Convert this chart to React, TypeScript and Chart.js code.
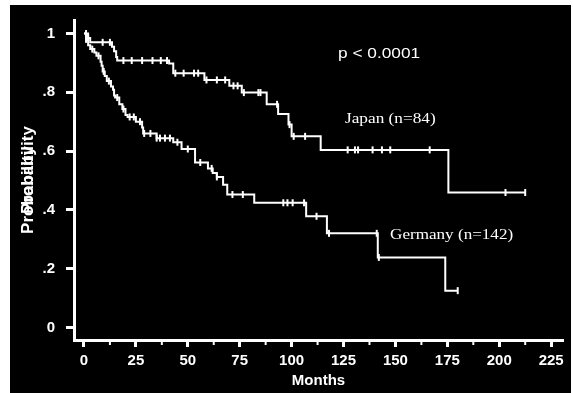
import { useEffect, useRef } from 'react';
import { Chart, registerables } from 'chart.js';
Chart.register(...registerables);

// Kaplan-Meier steps: [month, survival after event]
const japanEvents: [number, number][] = [
  [0, 1], [2, 0.985], [3, 0.97], [13.5, 0.955], [14.5, 0.94], [15.5, 0.92], [16, 0.908],
  [41, 0.898], [43, 0.865], [58, 0.842], [70, 0.822], [76, 0.799], [88, 0.759],
  [93.5, 0.726], [98.5, 0.69], [100, 0.65], [114, 0.604], [175.5, 0.459], [212.5, 0.459],
];
const germanyEvents: [number, number][] = [
  [0, 1], [1, 0.98], [2, 0.96], [3, 0.947], [5, 0.935], [6, 0.924], [8, 0.904], [8.5, 0.89],
  [9, 0.871], [10, 0.855], [11, 0.838], [13, 0.82], [14, 0.809], [14.5, 0.789], [15, 0.782],
  [17, 0.759], [18.5, 0.743], [20, 0.723], [21, 0.716], [25, 0.7], [28, 0.68], [28.5, 0.66],
  [35, 0.644], [43, 0.63], [47, 0.607], [53.5, 0.561], [59.7, 0.541], [62, 0.525], [64, 0.512],
  [67, 0.485], [69, 0.452], [82, 0.424], [107, 0.378], [117, 0.32], [141.5, 0.238],
  [174, 0.125], [180, 0.125],
];
const japanCensored = [1, 2, 9, 12.5, 19, 23, 28, 33, 37, 40, 44, 48, 53, 55, 59, 64, 68, 72, 74, 77,
  84, 85, 93, 99, 101, 106.5, 127, 130.5, 132, 139, 143.5, 147.5, 166.5, 203, 212.5];
const germanyCensored = [1, 4, 7, 9.5, 12, 16, 19, 22, 24, 27, 29, 32, 35, 36.6, 39, 41.4, 45, 50, 56,
  61.5, 64, 71.5, 76.5, 96, 98, 100.5, 106, 112, 118, 141, 142, 180];

const xMajorTicks = [0, 25, 50, 75, 100, 125, 150, 175, 200, 225];
const xTickLabels = ['0', '25', '50', '75', '100', '125', '150', '175', '200', '225'];
const xMinorTicks = [12.5, 37.5, 62.5, 87.5, 112.5, 137.5, 162.5, 187.5, 212.5];
const yTickValues = [0, 0.2, 0.4, 0.6, 0.8, 1];
const yTickLabels = ['0', '.2', '.4', '.6', '.8', '1'];

const annotations = [
  { text: 'p < 0.0001', x: 122.4, y: 0.93, font: '15px "Liberation Sans", Arial, sans-serif', stretch: 1.15 },
  { text: 'Japan (n=84)', x: 125.7, y: 0.708, font: '15px "Liberation Serif", "Times New Roman", serif', stretch: 1.15 },
  { text: 'Germany (n=142)', x: 147.4, y: 0.313, font: '15px "Liberation Serif", "Times New Roman", serif', stretch: 1.14 },
];

const SANS = '"Liberation Sans", Arial, sans-serif';
const Y_TITLE = 'Probability';

function survivalAt(events: [number, number][], t: number) {
  let s = events[0][1];
  for (const [x, y] of events) if (x <= t) s = y;
  return s;
}

const framePlugin = {
  id: 'frame',
  beforeDraw(chart: any) {
    const { ctx, width, height } = chart;
    ctx.save();
    ctx.fillStyle = '#fff';
    ctx.fillRect(0, 0, width, height);
    ctx.fillStyle = '#000';
    ctx.fillRect(10, 5, width - 12, height - 5);
    ctx.restore();
  },
  afterDraw(chart: any) {
    const { ctx, chartArea } = chart;
    const xs = chart.scales.x;
    const ys = chart.scales.y;
    ctx.save();
    ctx.strokeStyle = '#fff';
    ctx.lineWidth = 2;
    for (const v of xMinorTicks) {
      const px = xs.getPixelForValue(v);
      ctx.beginPath();
      ctx.moveTo(px, chartArea.bottom);
      ctx.lineTo(px, chartArea.bottom + 5);
      ctx.stroke();
    }
    ctx.fillStyle = '#fff';
    ctx.textBaseline = 'middle';
    ctx.textAlign = 'left';
    for (const a of annotations) {
      const px = xs.getPixelForValue(a.x);
      const py = ys.getPixelForValue(a.y);
      ctx.save();
      ctx.font = a.font;
      ctx.translate(px, py);
      ctx.scale(a.stretch, 1);
      ctx.fillText(a.text, 0, 0);
      ctx.restore();
    }
    // y-axis title (doubled, as in the scanned original)
    const cy = (chartArea.top + chartArea.bottom) / 2;
    ctx.font = `bold 17px ${SANS}`;
    ctx.textAlign = 'center';
    for (const off of [-10, 10]) {
      ctx.save();
      ctx.translate(28, cy + off);
      ctx.rotate(-Math.PI / 2);
      ctx.fillText(Y_TITLE, 0, 0);
      ctx.restore();
    }
    ctx.restore();
  },
};

export default function App() {
  const ref = useRef<HTMLCanvasElement | null>(null);
  useEffect(() => {
    document.body.style.margin = '0';
    const canvas = ref.current!;
    const lineDs = (events: [number, number][]) => ({
      type: 'line' as const,
      data: events.map(([x, y]) => ({ x, y })),
      borderColor: '#fff',
      borderWidth: 2,
      stepped: 'before' as const,
      pointRadius: 0,
      fill: false,
      showLine: true,
    });
    const censorDs = (events: [number, number][], times: number[]) => ({
      type: 'scatter' as const,
      data: times.map((t) => ({ x: t, y: survivalAt(events, t) })),
      borderColor: '#fff',
      backgroundColor: '#fff',
      pointStyle: 'line' as const,
      rotation: 90,
      pointRadius: 3.5,
      borderWidth: 2,
      showLine: false,
    });
    const chart = new Chart(canvas, {
      type: 'scatter',
      data: {
        datasets: [
          lineDs(japanEvents) as any,
          lineDs(germanyEvents) as any,
          censorDs(japanEvents, japanCensored) as any,
          censorDs(germanyEvents, germanyCensored) as any,
        ],
      },
      options: {
        responsive: false,
        animation: false,
        layout: { padding: { left: 0, top: 10, right: 10, bottom: 0 } },
        plugins: { legend: { display: false }, tooltip: { enabled: false } },
        scales: {
          x: {
            type: 'linear',
            min: -4.8,
            max: 230.7,
            afterFit: (s: any) => { s.height = 53; },
            afterBuildTicks: (s: any) => { s.ticks = xMajorTicks.map((v) => ({ value: v })); },
            ticks: {
              color: '#fff',
              font: { family: SANS, size: 15, weight: 'bold' },
              padding: 5,
              maxRotation: 0,
              autoSkip: false,
              callback: (_v: any, i: number) => xTickLabels[i],
            },
            grid: { display: true, drawOnChartArea: false, drawTicks: true, tickLength: 7, tickWidth: 3, tickColor: '#fff', color: '#fff' },
            border: { display: true, color: '#fff', width: 3 },
            title: { display: true, text: 'Months', color: '#fff', font: { family: SANS, size: 15, weight: 'bold' }, padding: { top: 0, bottom: 3 } },
          },
          y: {
            type: 'linear',
            min: -0.043,
            max: 1.046,
            afterFit: (s: any) => { s.width = 74; },
            afterBuildTicks: (s: any) => { s.ticks = yTickValues.map((v) => ({ value: v })); },
            ticks: {
              color: '#fff',
              font: { family: SANS, size: 15, weight: 'bold' },
              padding: 11,
              autoSkip: false,
              callback: (_v: any, i: number) => yTickLabels[i],
            },
            grid: { display: true, drawOnChartArea: false, drawTicks: true, tickLength: 8, tickWidth: 3, tickColor: '#fff', color: '#fff' },
            border: { display: true, color: '#fff', width: 3 },
            title: { display: false },
          },
        },
      } as any,
      plugins: [framePlugin],
    });
    return () => chart.destroy();
  }, []);
  return <canvas ref={ref} width={573} height={393} style={{ display: 'block' }} />;
}
